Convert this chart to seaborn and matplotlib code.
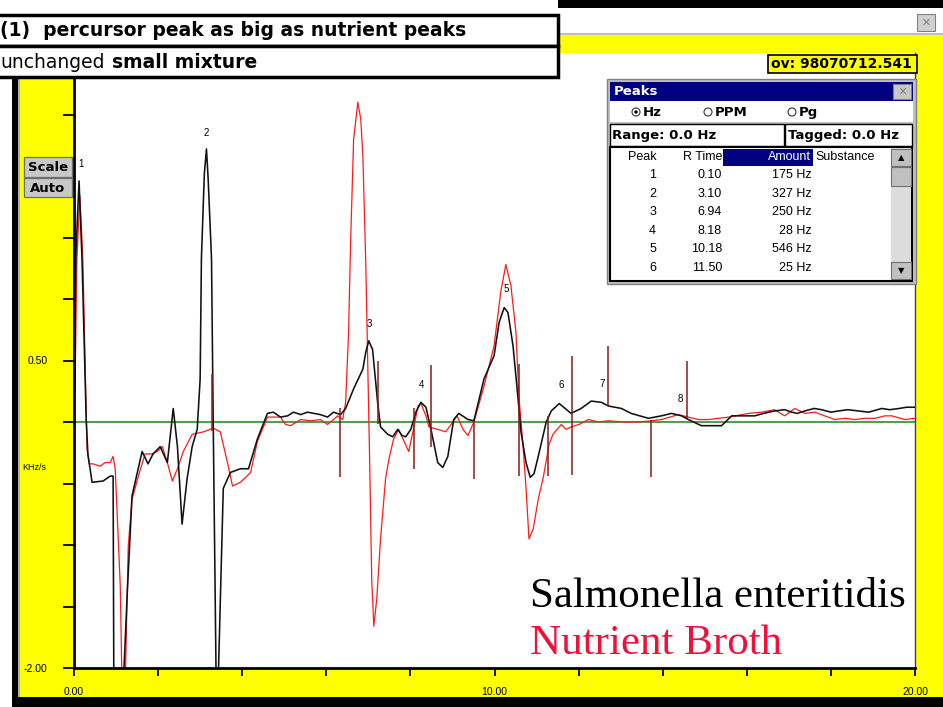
import matplotlib
matplotlib.use("Agg")
import matplotlib.pyplot as plt
import seaborn as sns
import pandas as pd
from matplotlib.patches import Rectangle, Circle

# ---------------- data ----------------
black_time = [0.00, 0.05, 0.12, 0.19, 0.29, 0.33, 0.43, 0.69, 0.86, 0.93, 0.95, 1.05, 1.12, 1.19, 1.26,
              1.38, 1.62, 1.76, 1.88, 2.05, 2.22, 2.36, 2.46, 2.57, 2.69, 2.81, 2.93, 3.00, 3.03, 3.10,
              3.15, 3.19, 3.27, 3.31, 3.38, 3.43, 3.55, 3.72, 3.96, 4.15, 4.36, 4.60, 4.74, 4.91, 5.08,
              5.22, 5.39, 5.55, 5.70, 5.86, 6.03, 6.17, 6.34, 6.46, 6.65, 6.87, 6.94, 7.01, 7.10, 7.22,
              7.29, 7.46, 7.58, 7.70, 7.80, 7.89, 8.01, 8.13, 8.25, 8.37, 8.49, 8.65, 8.77, 8.89, 9.03,
              9.15, 9.37, 9.51, 9.75, 9.99, 10.11, 10.23, 10.32, 10.44, 10.56, 10.63, 10.75, 10.85, 10.94,
              11.04, 11.23, 11.35, 11.54, 11.68, 11.82, 12.06, 12.30, 12.54, 12.71, 13.02, 13.25, 13.66,
              13.97, 14.21, 14.45, 14.61, 14.92, 15.40, 15.64, 16.19, 16.40, 16.66, 16.90, 17.07, 17.20,
              17.38, 17.60, 17.78, 18.00, 18.19, 18.40, 18.66, 18.90, 19.21, 19.40, 19.62, 19.80, 20.00]
black_value = [0.43, 1.41, 1.96, 1.33, 0.02, -0.26, -0.49, -0.48, -0.44, -0.44, -2.40, -2.40, -2.40, -2.00, -1.44,
               -0.60, -0.24, -0.34, -0.26, -0.20, -0.33, 0.11, -0.20, -0.83, -0.46, -0.20, -0.06, 0.35, 1.33, 2.02,
               2.22, 1.98, 1.33, 0.02, -2.10, -2.10, -0.54, -0.41, -0.38, -0.38, -0.14, 0.07, 0.08, 0.04, 0.05,
               0.08, 0.06, 0.08, 0.07, 0.06, 0.04, 0.08, 0.06, 0.11, 0.27, 0.43, 0.57, 0.66, 0.59, 0.16,
               -0.04, -0.10, -0.12, -0.06, -0.11, -0.12, -0.06, 0.08, 0.16, 0.12, -0.06, -0.33, -0.37, -0.28, 0.02,
               0.07, 0.02, 0.01, 0.35, 0.54, 0.81, 0.93, 0.89, 0.62, 0.19, -0.08, -0.33, -0.45, -0.42,
               -0.28, 0.00, 0.09, 0.15, 0.11, 0.07, 0.11, 0.17, 0.16, 0.13, 0.11, 0.07, 0.03,
               0.05, 0.07, 0.05, 0.02, -0.03, -0.03, 0.05, 0.05, 0.07, 0.09, 0.10, 0.08, 0.07,
               0.09, 0.11, 0.10, 0.08, 0.09, 0.10, 0.09, 0.08, 0.11, 0.10, 0.11, 0.12, 0.12]

red_time = [0.02, 0.07, 0.14, 0.21, 0.31, 0.36, 0.45, 0.62, 0.74, 0.86, 0.93, 0.98, 1.10, 1.14, 1.22,
            1.29, 1.38, 1.53, 1.69, 1.84, 1.98, 2.10, 2.22, 2.34, 2.46, 2.60, 2.81, 3.08, 3.31, 3.48,
            3.65, 3.77, 3.96, 4.20, 4.36, 4.60, 4.74, 4.91, 5.03, 5.15, 5.39, 5.63, 5.86, 6.03, 6.17,
            6.27, 6.39, 6.46, 6.53, 6.58, 6.65, 6.75, 6.82, 6.87, 6.94, 6.98, 7.03, 7.08, 7.13, 7.20,
            7.29, 7.41, 7.49, 7.60, 7.72, 7.84, 7.96, 8.06, 8.18, 8.25, 8.37, 8.44, 8.65, 8.84, 9.01,
            9.11, 9.25, 9.37, 9.51, 9.75, 9.99, 10.15, 10.27, 10.39, 10.51, 10.58, 10.68, 10.75, 10.82,
            10.92, 11.04, 11.16, 11.30, 11.39, 11.59, 11.70, 11.82, 12.01, 12.23, 12.47, 12.71, 13.02,
            13.42, 13.73, 13.97, 14.37, 14.61, 14.85, 15.09, 15.57, 16.04, 16.35, 16.66, 16.90, 17.14,
            17.38, 17.62, 17.85, 18.09, 18.33, 18.57, 18.81, 19.05, 19.28, 19.45, 19.76, 20.00]
red_value = [0.19, 1.33, 1.84, 1.33, -0.22, -0.34, -0.34, -0.36, -0.33, -0.33, -0.28, -0.38, -1.33, -2.10, -2.10,
             -1.01, -0.63, -0.44, -0.26, -0.26, -0.24, -0.20, -0.33, -0.48, -0.38, -0.24, -0.10, -0.08, -0.05, -0.08,
             -0.33, -0.52, -0.49, -0.41, -0.16, 0.04, 0.04, 0.04, -0.02, -0.03, 0.02, 0.01, 0.02, -0.02, 0.02,
             0.05, 0.02, 0.16, 0.73, 1.49, 2.30, 2.60, 2.46, 2.16, 1.27, 0.57, -0.30, -1.28, -1.66, -1.44,
             -0.95, -0.46, -0.30, -0.14, -0.06, -0.15, -0.24, -0.08, 0.13, 0.15, 0.05, -0.04, -0.06, -0.08, 0.00,
             0.05, -0.06, -0.11, 0.00, 0.29, 0.62, 1.06, 1.28, 1.11, 0.73, 0.21, -0.20, -0.54, -0.95,
             -0.87, -0.63, -0.45, -0.18, -0.10, -0.02, -0.06, -0.04, -0.02, 0.02, 0.00, 0.01, 0.00,
             0.00, 0.01, 0.02, 0.06, 0.04, 0.02, 0.02, 0.04, 0.07, 0.08, 0.10, 0.05, 0.11,
             0.07, 0.08, 0.05, 0.02, 0.03, 0.02, 0.03, 0.03, 0.05, 0.05, 0.02, 0.03]

marker_time = [3.27, 6.32, 7.22, 8.08, 8.49, 9.51, 10.58, 11.28, 11.85, 12.71, 13.71, 14.57]
marker_top = [0.39, 0.11, 0.50, 0.11, 0.46, 0.00, 0.47, 0.05, 0.54, 0.62, 0.02, 0.50]
marker_bottom = [-0.07, -0.45, -0.02, -0.38, -0.20, -0.46, -0.44, -0.44, -0.43, 0.13, -0.45, 0.03]

peak_labels = ["1", "2", "3", "4", "5", "6", "7", "8"]
peak_label_time = [0.17, 3.15, 7.03, 8.27, 10.27, 11.59, 12.56, 14.42]
peak_label_value = [2.06, 2.31, 0.76, 0.26, 1.04, 0.26, 0.27, 0.15]

x_ticks = [0, 2, 4, 6, 8, 10, 12, 14, 16, 18, 20]
x_tick_labels = ["0.00", "", "", "", "", "10.00", "", "", "", "", "20.00"]
y_ticks = [-2.0, -1.5, -1.0, -0.5, 0.0, 0.5, 1.0, 1.5, 2.0, 2.5]
y_tick_labels = ["-2.00", "", "", "", "", "0.50", "", "", "", ""]

table_peak = ["1", "2", "3", "4", "5", "6"]
table_rtime = ["0.10", "3.10", "6.94", "8.18", "10.18", "11.50"]
table_amount = ["175 Hz", "327 Hz", "250 Hz", "28 Hz", "546 Hz", "25 Hz"]

series_names = ["Salmonella enteritidis", "Nutrient Broth"]

# ---------------- figure ----------------
W, H = 943, 707
fig = plt.figure(figsize=(W / 100, H / 100), dpi=100, facecolor="#FFFF00")
sans = "Liberation Sans"
ui = "DejaVu Sans"

def fx(px):
    return px / W

def fy(py):
    return 1 - py / H

ax_l, ax_r, ax_t, ax_b = 74, 915, 53, 668
ax = fig.add_axes([fx(ax_l), fy(ax_b), (ax_r - ax_l) / W, (ax_b - ax_t) / H])
ax.set_facecolor("white")
ax.set_zorder(1)

black_df = pd.DataFrame({"time": black_time, "value": black_value})
red_df = pd.DataFrame({"time": red_time, "value": red_value})

ax.axhline(0, color="#4ea24e", lw=1.5, zorder=1)
sns.lineplot(data=red_df, x="time", y="value", ax=ax, color="#ff1a1a", lw=0.9,
             sort=False, estimator=None, zorder=2)
sns.lineplot(data=black_df, x="time", y="value", ax=ax, color="#111111", lw=1.15,
             sort=False, estimator=None, zorder=3)
ax.vlines(marker_time, marker_bottom, marker_top, color="#8b1a1a", lw=1.1, zorder=4)
for lab, t, v in zip(peak_labels, peak_label_time, peak_label_value):
    ax.text(t, v, lab, fontsize=7, family=sans, ha="center", va="bottom", zorder=5)

ax.set_xlim(0, 20)
ax.set_ylim(-2.0, 3.0)
ax.set_xticks(x_ticks)
ax.set_xticklabels(x_tick_labels, fontsize=7.5, family=sans)
ax.set_yticks(y_ticks)
ax.set_yticklabels(y_tick_labels, fontsize=7.5, family=sans)
ax.tick_params(axis="x", direction="out", length=6, width=1.3, pad=8)
ax.tick_params(axis="y", direction="out", length=8, width=1.3, pad=11)
ax.set_xlabel("")
ax.set_ylabel("")
ax.spines["top"].set_visible(False)
ax.spines["left"].set_linewidth(2)
ax.spines["bottom"].set_linewidth(2)
ax.spines["right"].set_linewidth(1)
ax.spines["right"].set_color("#444444")

# ---------------- overlay (window chrome, dialog, notes) ----------------
ov = fig.add_axes([0, 0, 1, 1])
ov.set_xlim(0, W)
ov.set_ylim(H, 0)
ov.axis("off")
ov.patch.set_alpha(0)
ov.set_zorder(5)

def rect(x, y, w, h, fc, ec="none", lw=0, **kw):
    ov.add_patch(Rectangle((x, y), w, h, facecolor=fc, edgecolor=ec, lw=lw, **kw))

# outside area / window frame
rect(0, 0, 12, H, "white")
rect(0, 0, W, 35, "white")
rect(12, 78, 6, H - 78, "black")
rect(18, 78, 2, H - 88, "#b0b0b0")
rect(12, 697, W - 12, 10, "black")
rect(558, 0, W - 558, 8, "black")
rect(560, 33, W - 560, 2, "#bdbdbd")
rect(917, 14, 18, 17, "#d0d0d0", "#808080", 0.8)
ov.text(926, 23, "×", fontsize=11, color="#808080", ha="center", va="center", family=sans)

# y-axis unit
ov.text(22, 468, "KHz/s", fontsize=6.5, family=sans, ha="left", va="center")

# Scale / Auto buttons
for label, y0, hh in [("Scale", 157, 20), ("Auto", 178, 19)]:
    rect(24, y0, 48, hh, "#c8c8c8", "#6e6e6e", 0.9)
    ov.text(48, y0 + hh / 2 + 0.5, label, fontsize=9.5, weight="bold", family=ui, ha="center", va="center")

# note boxes
rect(-5, 15, 563, 31, "white", "black", 2.5)
rect(-5, 46, 563, 31, "white", "black", 2.5)
ov.text(0, 31, "(1)  percursor peak as big as nutrient peaks", fontsize=13.5, weight="bold",
        family=ui, ha="left", va="center")
ov.text(0, 63, "unchanged", fontsize=13.5, family=ui, ha="left", va="center")
ov.text(112, 63, "small mixture", fontsize=13.5, weight="bold", family=ui, ha="left", va="center")

# ov box
rect(768, 55, 149, 18, "#ffff00", "black", 1.2)
ov.text(771, 64.5, "ov: 98070712.541", fontsize=10, weight="bold", family=ui, ha="left", va="center")

# Peaks dialog
rect(607, 79, 309, 205, "#c0c0c0", "#808080", 1)
rect(610, 82, 303, 19, "#000080")
ov.text(614, 91.5, "Peaks", fontsize=9.5, weight="bold", color="white", family=ui, va="center")
rect(893, 84, 18, 15, "#c8c8c8", "#808080", 0.8)
ov.text(902, 91.5, "×", fontsize=10, color="#808080", ha="center", va="center", family=sans)
rect(610, 101, 303, 21, "white")
for cx, lab, filled in [(636, "Hz", True), (708, "PPM", False), (792, "Pg", False)]:
    ov.add_patch(Circle((cx, 112), 4, facecolor="white", edgecolor="#333333", lw=0.8))
    if filled:
        ov.add_patch(Circle((cx, 112), 1.7, facecolor="black", edgecolor="none"))
    ov.text(cx + 7, 112.5, lab, fontsize=9.5, weight="bold", family=ui, va="center")
rect(610, 124, 174, 22, "white", "black", 1)
ov.text(612, 135, "Range: 0.0 Hz", fontsize=9.5, weight="bold", family=ui, va="center")
rect(785, 124, 127, 22, "white", "black", 1)
ov.text(788, 135, "Tagged: 0.0 Hz", fontsize=9.5, weight="bold", family=ui, va="center")
rect(610, 147, 302, 134, "white", "black", 1.5)
rect(723, 149, 90, 17, "#000080")
ov.text(657, 157.5, "Peak", fontsize=9, family=sans, ha="right", va="center")
ov.text(722, 157.5, "R Time", fontsize=9, family=sans, ha="right", va="center")
ov.text(811, 157.5, "Amount", fontsize=9, family=sans, ha="right", va="center", color="white")
ov.text(815, 157.5, "Substance", fontsize=9, family=sans, ha="left", va="center")
for i, (p, rt, am) in enumerate(zip(table_peak, table_rtime, table_amount)):
    yy = 175 + i * 18.6
    ov.text(656, yy, p, fontsize=9, family=sans, ha="right", va="center")
    ov.text(722, yy, rt, fontsize=9, family=sans, ha="right", va="center")
    ov.text(812, yy, am, fontsize=9, family=sans, ha="right", va="center")
rect(891, 148, 20, 132, "#dcdcdc")
rect(891, 149, 20, 17, "#c0c0c0", "#707070", 0.8)
ov.text(901, 158, "▲", fontsize=6, ha="center", va="center", family="DejaVu Sans")
rect(891, 167, 20, 19, "#c0c0c0", "#707070", 0.8)
rect(891, 262, 20, 17, "#c0c0c0", "#707070", 0.8)
ov.text(901, 271, "▼", fontsize=6, ha="center", va="center", family="DejaVu Sans")

# legend text
ov.text(530, 607, series_names[0], fontsize=31, family="Liberation Serif", color="black",
        ha="left", va="baseline")
ov.text(530, 654, series_names[1], fontsize=31, family="Liberation Serif", color="#f0103a",
        ha="left", va="baseline")

fig.savefig("out.png", dpi=100, facecolor=fig.get_facecolor())
